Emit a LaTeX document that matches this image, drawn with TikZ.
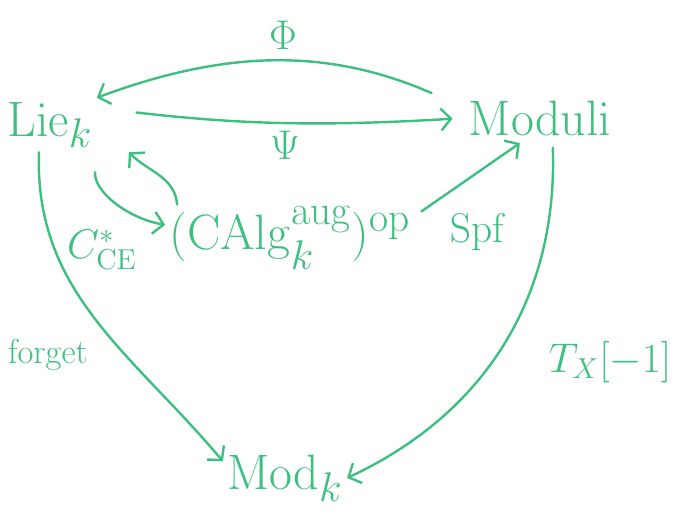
\documentclass[tikz,border=0pt]{standalone}
\usepackage{amsmath, amssymb}
\usepackage{tikz}
\usetikzlibrary{arrows.meta, positioning, calc}
\usepackage{xcolor}
\definecolor{chalkgreen}{HTML}{3DBF7F}

\begin{document}
\begin{tikzpicture}[
  x=0.5pt, y=-0.5pt,
  obj/.style={text=chalkgreen, inner sep=2pt, font=\Huge},
  lbl/.style={text=chalkgreen, inner sep=1pt, font=\huge},
  small/.style={lbl, font=\LARGE},
  arr/.style={->, draw=chalkgreen, line width=1.2pt, line cap=round},
  >={Straight Barb[length=5pt, width=11pt, line width=1.2pt]}
]
  \useasboundingbox (0,0) rectangle (683,528);

  % Objects
  \node[obj] (lie)  at (50,125)  {$\mathrm{Lie}_k$};
  \node[obj] (mdl)  at (540,118) {$\mathrm{Moduli}$};
  \node[obj] (calg) at (290,238) {$(\mathrm{CAlg}_k^{\mathrm{aug}})^{\mathrm{op}}$};
  \node[obj] (modk) at (285,478) {$\mathrm{Mod}_k$};

  % Labels
  \node[lbl]   (phi)    at (283,35)  {$\Phi$};
  \node[lbl]   (psi)    at (285,145) {$\Psi$};
  \node[lbl]   (cce)    at (102,250) {$C^*_{\mathrm{CE}}$};
  \node[lbl]   (spf)    at (478,232) {$\mathrm{Spf}$};
  \node[small] (forget) at (48,355)  {$\mathrm{forget}$};
  \node[lbl]   (tx)     at (610,362) {$T_X[-1]$};

  % Top pair
  \draw[arr, shorten <=18pt] (mdl.172) to[bend right=22] (lie.north east);
  \draw[arr, shorten <=20pt, shorten >=6pt] (lie.20) to[bend right=5] (mdl.west);

  % Chevalley--Eilenberg and back
  \draw[arr, shorten <=10pt] (lie.south east) to[out=-95, in=170] (calg.174);
  \draw[arr] ([xshift=6pt]calg.165) to[out=95, in=-45] ([xshift=16pt]lie.south east);

  % Spf
  \draw[arr, shorten <=4pt, shorten >=3pt] (calg.10) -- (mdl.-125);

  % Down to modules
  \draw[arr] (lie.-112) to[out=-92, in=130] (modk.165);
  \draw[arr, shorten <=4pt] (mdl.-60) to[out=-88, in=25] (modk.east);
\end{tikzpicture}
\end{document}
